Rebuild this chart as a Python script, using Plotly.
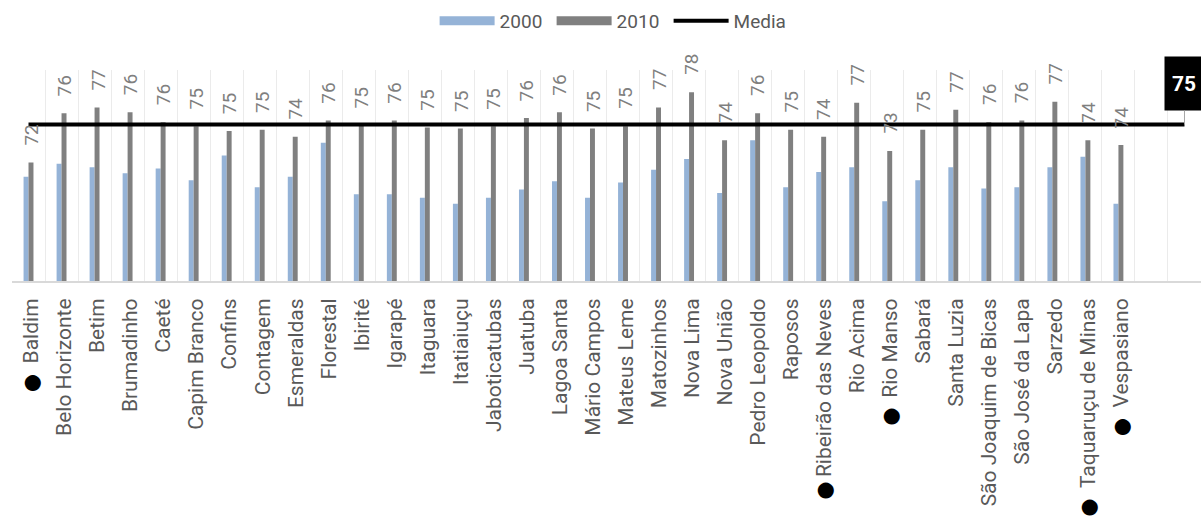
import plotly.graph_objects as go

# ---------------- data ----------------
municipios = [
    "Baldim", "Belo Horizonte", "Betim", "Brumadinho", "Caeté", "Capim Branco",
    "Confins", "Contagem", "Esmeraldas", "Florestal", "Ibirité", "Igarapé",
    "Itaguara", "Itatiaiuçu", "Jaboticatubas", "Juatuba", "Lagoa Santa",
    "Mário Campos", "Mateus Leme", "Matozinhos", "Nova Lima", "Nova União",
    "Pedro Leopoldo", "Raposos", "Ribeirão das Neves", "Rio Acima", "Rio Manso",
    "Sabará", "Santa Luzia", "São Joaquim de Bicas", "São José da Lapa",
    "Sarzedo", "Taquaruçu de Minas", "Vespasiano",
]

# tick labels as printed (some carry a black bullet mark)
NB = "\u00a0"
TH = "\u2009"
BUL = "<span style='color:black'>●</span>"
rotulos = [
    BUL + NB * 2 + "Baldim", "Belo Horizonte", "Betim", "Brumadinho", "Caeté",
    "Capim Branco", "Confins", "Contagem", "Esmeraldas", "Florestal", "Ibirité",
    "Igarapé", "Itaguara", "Itatiaiuçu", "Jaboticatubas", "Juatuba",
    "Lagoa Santa", "Mário Campos", "Mateus Leme", "Matozinhos", "Nova Lima",
    "Nova União", "Pedro Leopoldo", "Raposos", BUL + TH + "Ribeirão das Neves",
    "Rio Acima", BUL + NB + TH + "Rio Manso", "Sabará", "Santa Luzia",
    "São Joaquim de Bicas", "São José da Lapa", "Sarzedo",
    BUL + NB * 2 + "Taquaruçu de Minas", BUL + NB * 2 + "Vespasiano",
]

ano_2000 = [
    70.9, 72.0, 71.7, 71.2, 71.6, 70.6, 72.7, 70.0, 70.9, 73.8, 69.4, 69.4,
    69.1, 68.6, 69.1, 69.8, 70.5, 69.1, 70.4, 71.5, 72.4, 69.5, 74.0, 70.0,
    71.3, 71.7, 68.8, 70.6, 71.7, 69.9, 70.0, 71.7, 72.6, 68.6,
]
ano_2010 = [
    72.1, 76.3, 76.8, 76.4, 75.55, 75.2, 74.8, 74.9, 74.3, 75.7, 75.3, 75.7,
    75.1, 75.0, 75.2, 75.9, 76.4, 75.0, 75.2, 76.8, 78.1, 74.0, 76.3, 74.9,
    74.3, 77.2, 73.1, 74.9, 76.6, 75.55, 75.7, 77.3, 74.0, 73.6,
]
media = 75.35

# ---------------- figure ----------------
C2000 = "#95B3D7"
C2010 = "#808080"
FONT = "Roboto, 'Noto Sans', 'DejaVu Sans', sans-serif"

n = len(municipios)
n_slots = n + 2          # two empty category slots at the right
idx = list(range(n))
slots = list(range(n_slots))

fig = go.Figure()
fig.add_trace(go.Bar(x=idx, y=ano_2000, name="2000", marker_color=C2000,
                     marker_line_width=0, showlegend=False))
fig.add_trace(go.Bar(x=idx, y=ano_2010, name="2010", marker_color=C2010,
                     marker_line_width=0, showlegend=False))
# legend entries
fig.add_trace(go.Scatter(x=[None], y=[None], mode="lines", name="2000",
                         line=dict(color=C2000, width=9)))
fig.add_trace(go.Scatter(x=[None], y=[None], mode="lines", name="2010",
                         line=dict(color=C2010, width=9)))
fig.add_trace(go.Scatter(x=slots, y=[media] * n_slots, mode="lines", name="Media",
                         line=dict(color="black", width=4)))

annotations = []
for i, v in enumerate(ano_2010):
    annotations.append(dict(
        x=i, y=v, xref="x", yref="y", text=f"{v:.0f}", textangle=-90,
        showarrow=False, xanchor="center", yanchor="bottom", yshift=15, xshift=3,
        font=dict(family=FONT, size=19, color="#7f7f7f"),
    ))
annotations.append(dict(
    x=n_slots - 1, y=media, xref="x", yref="y", text=f"<b>{media:.0f}</b>",
    showarrow=True, arrowhead=0, arrowwidth=1, arrowcolor="#a6a6a6",
    ax=0, ay=-41, bgcolor="black", width=38, height=53, borderpad=0,
    font=dict(family=FONT, size=21, color="white"),
))

fig.update_layout(
    width=1201, height=517,
    margin=dict(l=12, r=0, t=70, b=236),
    paper_bgcolor="white", plot_bgcolor="white",
    barmode="group", bargap=0.7, bargroupgap=0,
    font=dict(family=FONT, color="#595959"),
    showlegend=True,
    legend=dict(orientation="h", xref="container", yref="container",
                x=0.508, xanchor="center", y=1 - 21 / 517, yanchor="middle",
                itemwidth=55, entrywidth=47,
                font=dict(size=19, color="#595959"), bgcolor="rgba(0,0,0,0)"),
    xaxis=dict(
        range=[-0.5, n_slots - 0.5], tickmode="array", tickvals=idx,
        ticktext=rotulos, tickangle=-90, ticks="",
        ticklabelstandoff=7, ticklabelshift=3,
        tickfont=dict(family=FONT, size=21, color="#595959"),
        showgrid=False, zeroline=False, showline=True,
        linecolor="#d9d9d9", linewidth=2, automargin=False,
        minor=dict(tickmode="array", tickvals=[s - 0.5 for s in range(n_slots + 1)],
                   showgrid=True, gridcolor="#ebebeb", gridwidth=1, ticks=""),
    ),
    yaxis=dict(range=[62, 80], showticklabels=False, showgrid=False,
               zeroline=False, showline=False, ticks="", automargin=False),
    annotations=annotations,
)

fig.write_html("out.html")
